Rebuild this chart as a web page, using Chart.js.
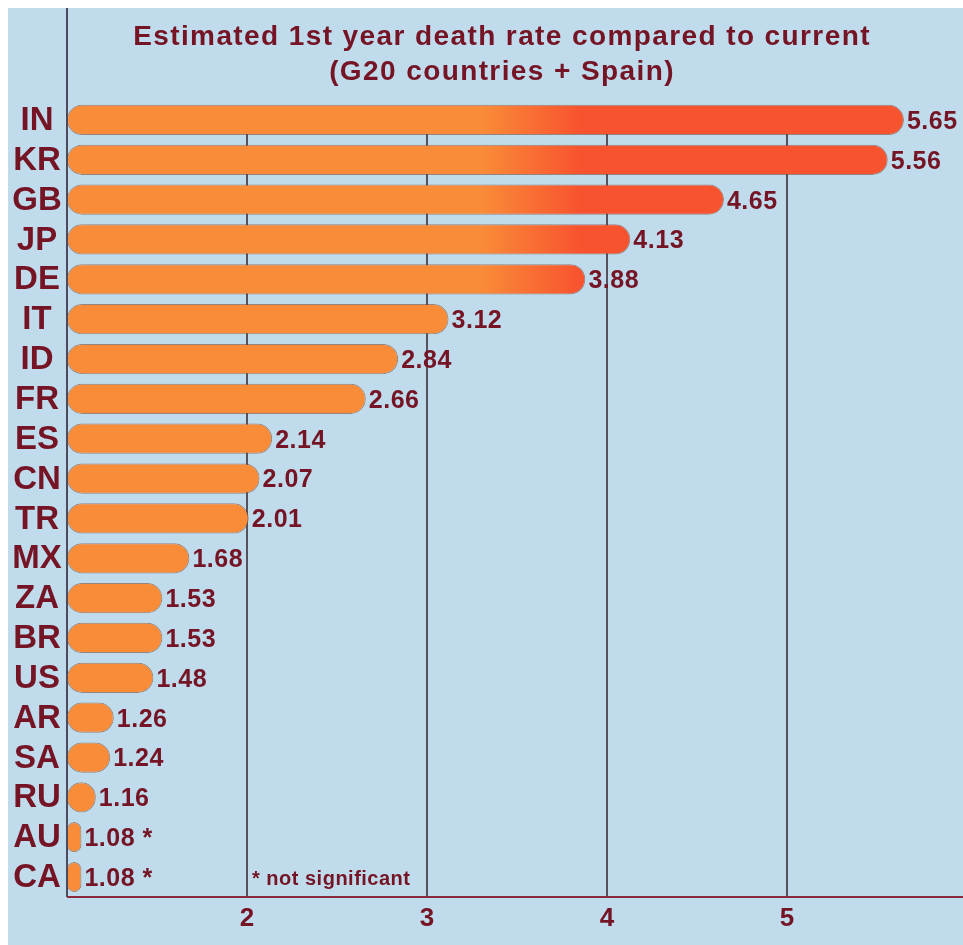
<!DOCTYPE html>
<html>
<head>
<meta charset="utf-8">
<script src="https://cdn.jsdelivr.net/npm/chart.js@4/dist/chart.umd.min.js"></script>
<style>
html,body{margin:0;padding:0;background:#ffffff;}
#wrap{position:relative;width:963px;height:945px;}
</style>
</head>
<body>
<div id="wrap"><canvas id="c" width="963" height="945"></canvas></div>
<script>
const countries = ["IN","KR","GB","JP","DE","IT","ID","FR","ES","CN","TR","MX","ZA","BR","US","AR","SA","RU","AU","CA"];
const deathRateRatio = [5.65,5.56,4.65,4.13,3.88,3.12,2.84,2.66,2.14,2.07,2.01,1.68,1.53,1.53,1.48,1.26,1.24,1.16,1.08,1.08];
const notSignificant = [false,false,false,false,false,false,false,false,false,false,false,false,false,false,false,false,false,false,true,true];
const xTickLabels = [2,3,4,5];
const titleLines = ["Estimated 1st year death rate compared to current","(G20 countries + Spain)"];
const footnote = "* not significant";

const BG = "#c0dcec";
const DARKRED = "#741424";
const ORANGE = "#f98c38";
const RED = "#f8532f";
const FONT = '"Liberation Sans", Arial, sans-serif';

function barGradient(ctx){
  const chart = ctx.chart;
  const xs = chart.scales.x;
  if(!xs || !chart.chartArea) return ORANGE;
  const x0 = xs.getPixelForValue(3.3), x1 = xs.getPixelForValue(3.85);
  const g = chart.ctx.createLinearGradient(x0,0,x1,0);
  g.addColorStop(0, ORANGE);
  g.addColorStop(1, RED);
  return g;
}

const decor = {
  id:'decor',
  beforeDraw(chart){
    const c = chart.ctx;
    c.save();
    c.fillStyle = '#ffffff';
    c.fillRect(0,0,chart.width,chart.height);
    c.fillStyle = BG;
    c.fillRect(8,8,chart.width-8,chart.height-8);
    c.restore();
  },
  beforeDatasetsDraw(chart){
    const c = chart.ctx;
    const a = chart.chartArea;
    const xs = chart.scales.x;
    const meta = chart.getDatasetMeta(0);
    const top = meta.data[0].y;
    c.save();
    c.strokeStyle = '#55525e';
    c.lineWidth = 2;
    xTickLabels.forEach(v=>{
      const x = Math.round(xs.getPixelForValue(v));
      c.beginPath(); c.moveTo(x, top); c.lineTo(x, a.bottom); c.stroke();
    });
    c.restore();
  },
  afterDraw(chart){
    const c = chart.ctx;
    const a = chart.chartArea;
    c.save();
    c.strokeStyle = '#4d4a5c';
    c.lineWidth = 2;
    c.beginPath(); c.moveTo(a.left, 8); c.lineTo(a.left, a.bottom); c.stroke();
    c.strokeStyle = '#8a2a3c';
    c.lineWidth = 2;
    c.beginPath(); c.moveTo(a.left, a.bottom); c.lineTo(chart.width, a.bottom); c.stroke();
    // title
    c.fillStyle = DARKRED;
    c.textAlign = 'center';
    c.textBaseline = 'middle';
    c.font = 'bold 28px ' + FONT;
    c.letterSpacing = '1.4px';
    c.fillText(titleLines[0], 502, 37);
    c.fillText(titleLines[1], 502, 72);
    // category labels, centered
    const meta = chart.getDatasetMeta(0);
    c.font = 'bold 33px ' + FONT;
    c.letterSpacing = '0px';
    meta.data.forEach((bar,i)=>{
      c.fillText(countries[i], 37, bar.y + 1);
    });
    // value labels
    c.font = 'bold 25px ' + FONT;
    c.letterSpacing = '0.5px';
    c.textAlign = 'left';
    meta.data.forEach((bar,i)=>{
      const txt = deathRateRatio[i].toFixed(2) + (notSignificant[i] ? ' *' : '');
      c.fillText(txt, bar.x + 3, bar.y + 2);
    });
    // footnote
    const xs = chart.scales.x;
    c.font = 'bold 20px ' + FONT;
    c.letterSpacing = '0.5px';
    c.fillText(footnote, xs.getPixelForValue(2) + 5, meta.data[meta.data.length-1].y + 2);
    c.restore();
  }
};

new Chart(document.getElementById('c'), {
  type:'bar',
  data:{
    labels: countries,
    datasets:[{
      data: deathRateRatio,
      base: 1,
      backgroundColor: barGradient,
      borderColor: 'rgba(110,60,40,0.55)',
      borderWidth: 1,
      borderSkipped: false,
      borderRadius: 15,
      categoryPercentage: 1,
      barPercentage: 0.76
    }]
  },
  options:{
    indexAxis:'y',
    responsive:false,
    animation:false,
    layout:{padding:{top:100,right:0,bottom:0,left:0}},
    plugins:{legend:{display:false},tooltip:{enabled:false},title:{display:false}},
    scales:{
      x:{
        type:'linear',
        min:1, max:5.978,
        afterBuildTicks(scale){ scale.ticks = xTickLabels.map(v=>({value:v})); },
        afterFit(scale){ scale.height = 48; },
        grid:{ display:false, drawTicks:false },
        border:{ display:false },
        ticks:{ color:DARKRED, padding:6, font:{family:FONT, size:26, weight:'bold'} }
      },
      y:{
        afterFit(scale){ scale.width = 67; },
        grid:{ display:false, drawTicks:false },
        border:{ display:false },
        ticks:{ display:false }
      }
    }
  },
  plugins:[decor]
});
</script>
</body>
</html>
